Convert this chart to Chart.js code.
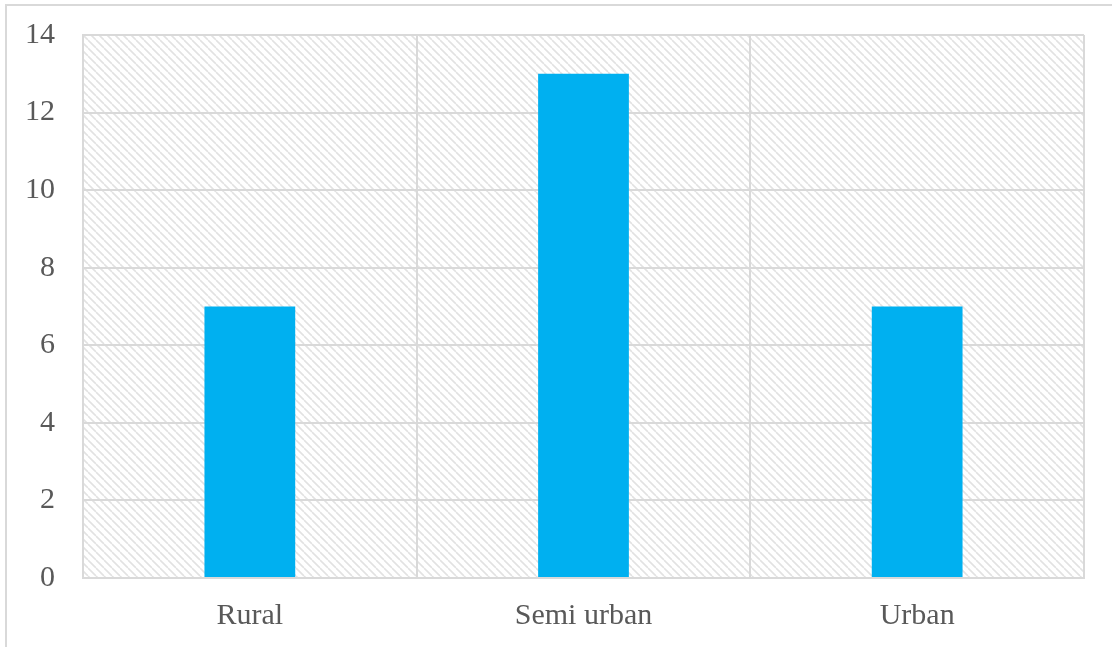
<!DOCTYPE html>
<html>
<head>
<meta charset="utf-8">
<script src="https://cdn.jsdelivr.net/npm/chart.js@4.4.1/dist/chart.umd.min.js"></script>
<style>
  html, body { margin: 0; padding: 0; background: #fff; overflow: hidden; }
  #wrap { position: relative; width: 1112px; height: 647px; }
  #frame { position: absolute; left: 5px; top: 4px; width: 1200px; height: 700px;
           border-left: 2px solid #d9d9d9; border-top: 2px solid #d9d9d9; }
  #chart { position: absolute; left: 0; top: 0; }
</style>
</head>
<body>
<div id="wrap">
  <div id="frame"></div>
  <canvas id="chart" width="1112" height="647"></canvas>
</div>
<script>
const categories = ['Rural', 'Semi urban', 'Urban'];
const counts = [7, 13, 7];
const yTicks = [0, 2, 4, 6, 8, 10, 12, 14];

const BAR_COLOR = '#00B0F0';
const GRID_COLOR = '#d9d9d9';
const TEXT_COLOR = '#595959';

// small diagonal hatch tile for the plot background
function makeHatch() {
  const tile = document.createElement('canvas');
  tile.width = 8;
  tile.height = 8;
  const c = tile.getContext('2d');
  c.fillStyle = '#ffffff';
  c.fillRect(0, 0, 8, 8);
  c.strokeStyle = '#e2e2e2';
  c.lineWidth = 1.6;
  [-8, 0, 8].forEach(off => {
    c.beginPath();
    c.moveTo(off, 0);
    c.lineTo(off + 8, 8);
    c.stroke();
  });
  return tile;
}

const hatchBackground = {
  id: 'hatchBackground',
  beforeDraw(chart) {
    const {ctx, chartArea} = chart;
    ctx.save();
    ctx.fillStyle = ctx.createPattern(makeHatch(), 'repeat');
    ctx.fillRect(chartArea.left, chartArea.top,
      chartArea.right - chartArea.left, chartArea.bottom - chartArea.top);
    ctx.restore();
  }
};

const font = {family: '"Liberation Serif", "Times New Roman", serif', size: 30};

new Chart(document.getElementById('chart').getContext('2d'), {
  type: 'bar',
  data: {
    labels: categories,
    datasets: [{
      data: counts,
      backgroundColor: BAR_COLOR,
      borderWidth: 0,
      categoryPercentage: 1,
      barPercentage: 0.272
    }]
  },
  options: {
    responsive: false,
    animation: false,
    layout: {padding: {top: 35, right: 28, left: 0, bottom: 0}},
    plugins: {legend: {display: false}, tooltip: {enabled: false}},
    scales: {
      x: {
        grid: {color: GRID_COLOR, lineWidth: 2, drawTicks: false},
        border: {color: GRID_COLOR, width: 2},
        ticks: {color: TEXT_COLOR, font, padding: 20},
        afterFit(scale) {
          scale.height = 69;
          scale.paddingLeft = 0;
          scale.paddingRight = 0;
        }
      },
      y: {
        min: 0,
        max: 14,
        afterBuildTicks(scale) { scale.ticks = yTicks.map(v => ({value: v})); },
        grid: {color: GRID_COLOR, lineWidth: 2, drawTicks: false},
        border: {color: GRID_COLOR, width: 2},
        ticks: {color: TEXT_COLOR, font, padding: 28},
        afterFit(scale) {
          scale.width = 83;
          scale.paddingTop = 0;
          scale.paddingBottom = 0;
        }
      }
    }
  },
  plugins: [hatchBackground]
});
</script>
</body>
</html>
